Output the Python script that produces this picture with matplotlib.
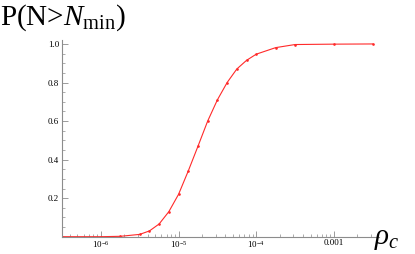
import numpy as np
import matplotlib
matplotlib.use('Agg')
import matplotlib.pyplot as plt
from matplotlib.ticker import FixedLocator, FixedFormatter, LogLocator, MultipleLocator, NullFormatter

# rho_c values and probability P(N > N_min)
rho_c = [3.16e-7, 1.0e-6, 1.78e-6, 3.16e-6, 4.22e-6, 5.62e-6, 7.5e-6, 1.0e-5,
         1.33e-5, 1.78e-5, 2.37e-5, 3.16e-5, 4.22e-5, 5.62e-5, 7.5e-5, 1.0e-4,
         1.78e-4, 3.16e-4, 1.0e-3, 3.16e-3]
prob = [0.0, 0.0, 0.002, 0.012, 0.03, 0.066, 0.13, 0.22,
        0.34, 0.47, 0.60, 0.71, 0.80, 0.87, 0.915, 0.947,
        0.981, 0.997, 0.999, 1.0]

x_ticks = [1e-6, 1e-5, 1e-4, 1e-3]
x_labels = [r'$10^{-6}$', r'$10^{-5}$', r'$10^{-4}$', '0.001']
y_ticks = [0.2, 0.4, 0.6, 0.8, 1.0]
y_labels = ['0.2', '0.4', '0.6', '0.8', '1.0']

plt.rcParams['font.family'] = 'Liberation Serif'
plt.rcParams['mathtext.fontset'] = 'custom'
plt.rcParams['mathtext.rm'] = 'Liberation Serif'
plt.rcParams['mathtext.it'] = 'Liberation Serif:italic'

axis_col = '#8c8c8c'

fig = plt.figure(figsize=(4.15, 2.54), dpi=100)
ax = fig.add_axes([62/415, 17.3/254, 317/415, 196.6/254])

ax.plot(rho_c, prob, '-', color='#ff2a2a', lw=0.8, marker='o', ms=0.9)

ax.set_xscale('log')
ax.set_xlim(3.16e-7, 3.8e-3)
ax.set_ylim(0, 1.02)

for side in ['top', 'right']:
    ax.spines[side].set_visible(False)
for side in ['left', 'bottom']:
    ax.spines[side].set_color(axis_col)
    ax.spines[side].set_linewidth(0.8)

ax.xaxis.set_major_locator(FixedLocator(x_ticks))
ax.xaxis.set_major_formatter(FixedFormatter(x_labels))
ax.xaxis.set_minor_locator(LogLocator(base=10, subs=np.arange(2, 10)))
ax.xaxis.set_minor_formatter(NullFormatter())
ax.yaxis.set_major_locator(FixedLocator(y_ticks))
ax.yaxis.set_major_formatter(FixedFormatter(y_labels))
ax.yaxis.set_minor_locator(MultipleLocator(0.05))

ax.tick_params(which='major', direction='in', length=4, width=0.6, color=axis_col,
               labelsize=6.5, pad=2)
ax.tick_params(which='minor', direction='in', length=2, width=0.5, color=axis_col)

fig.text(0.0, 1.0 - 25/254, r'P(N>$N_{\mathrm{min}}$)', fontsize=21, ha='left', va='baseline')
fig.text(374/415, 1.0 - 244/254, r'$\rho_c$', fontsize=21, ha='left', va='baseline')

fig.savefig('out.png', dpi=100)
